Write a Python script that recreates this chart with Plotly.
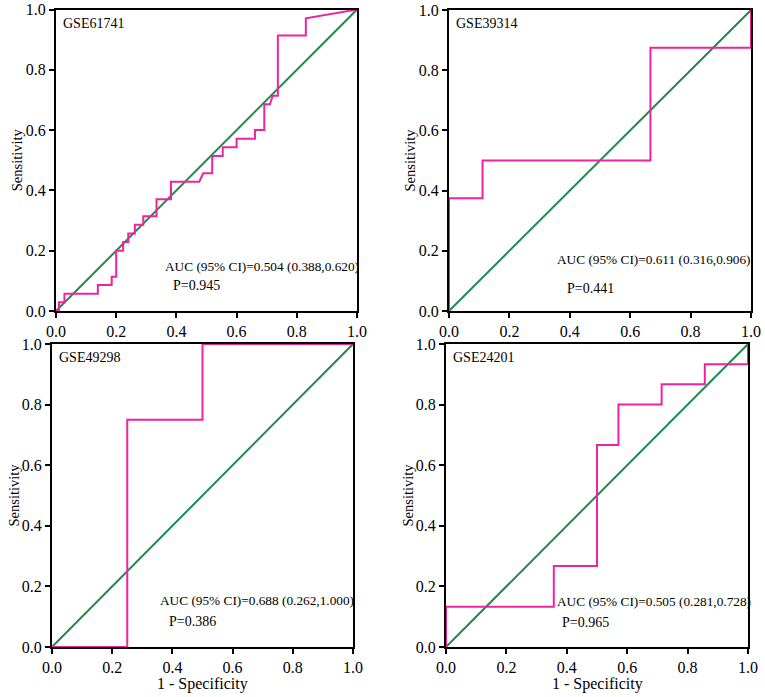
import plotly.graph_objects as go

# ---------------- data ----------------
panel_names = ["GSE61741", "GSE39314", "GSE49298", "GSE24201"]

fpr_61741 = [0, 0.01, 0.01, 0.028, 0.028, 0.139, 0.139, 0.185, 0.185, 0.2, 0.2,
             0.223, 0.223, 0.24, 0.24, 0.262, 0.262, 0.29, 0.29, 0.334, 0.334,
             0.382, 0.382, 0.476, 0.489, 0.519, 0.519, 0.554, 0.554, 0.6, 0.6,
             0.661, 0.661, 0.692, 0.692, 0.711, 0.72, 0.737, 0.737, 0.83, 0.83, 1.0]
tpr_61741 = [0, 0, 0.029, 0.029, 0.057, 0.057, 0.086, 0.086, 0.114, 0.114, 0.2,
             0.2, 0.229, 0.229, 0.257, 0.257, 0.286, 0.286, 0.314, 0.314, 0.371,
             0.371, 0.429, 0.429, 0.457, 0.457, 0.514, 0.514, 0.543, 0.543, 0.571,
             0.571, 0.6, 0.6, 0.686, 0.686, 0.714, 0.714, 0.914, 0.914, 0.971, 1.0]

fpr_39314 = [0, 0, 0.111, 0.111, 0.667, 0.667, 1.0, 1.0]
tpr_39314 = [0, 0.375, 0.375, 0.5, 0.5, 0.875, 0.875, 1.0]

fpr_49298 = [0, 0.25, 0.25, 0.5, 0.5, 1.0]
tpr_49298 = [0, 0, 0.75, 0.75, 1.0, 1.0]

fpr_24201 = [0, 0, 0.357, 0.357, 0.5, 0.5, 0.571, 0.571, 0.714, 0.714, 0.857, 0.857, 1.0, 1.0]
tpr_24201 = [0, 0.133, 0.133, 0.267, 0.267, 0.667, 0.667, 0.8, 0.8, 0.867, 0.867, 0.933, 0.933, 1.0]

auc_texts = ["AUC (95% CI)=0.504 (0.388,0.620)",
             "AUC (95% CI)=0.611 (0.316,0.906)",
             "AUC (95% CI)=0.688 (0.262,1.000)",
             "AUC (95% CI)=0.505 (0.281,0.728)"]
p_texts = ["P=0.945", "P=0.441", "P=0.386", "P=0.965"]

ref_line = [0, 1]
tick_vals = [0, 0.2, 0.4, 0.6, 0.8, 1.0]
tick_text = ["0.0", "0.2", "0.4", "0.6", "0.8", "1.0"]

# ---------------- layout geometry ----------------
W, H = 765, 697


def px(xp):
    return xp / W


def py(yp):
    return 1 - yp / H


# pixel boxes: (left, right, top, bottom)
boxes = [(56, 357, 9.5, 311), (449, 751, 10, 311), (52, 353, 344, 647), (446, 748, 344, 647)]
gse_pos = [(0.015, 0.955), (0.015, 0.956), (0.015, 0.957), (0.015, 0.957)]
auc_pos = [(0.356, 0.149), (0.352, 0.172), (0.353, 0.155), (0.362, 0.150)]
p_pos = [(0.382, 0.086), (0.384, 0.074), (0.381, 0.084), (0.376, 0.082)]
sens_x = [17, 410, 13, 407]

PINK = "#F0239E"
GREEN = "#1E8A4C"
FONT = "Liberation Serif"

curves = [(fpr_61741, tpr_61741), (fpr_39314, tpr_39314),
          (fpr_49298, tpr_49298), (fpr_24201, tpr_24201)]

fig = go.Figure()
annotations = []
for i, (fx, ty) in enumerate(curves):
    n = "" if i == 0 else str(i + 1)
    xa, ya = "x" + n, "y" + n
    fig.add_trace(go.Scatter(x=ref_line, y=ref_line, mode="lines",
                             line=dict(color=GREEN, width=2), xaxis=xa, yaxis=ya,
                             showlegend=False, hoverinfo="skip"))
    fig.add_trace(go.Scatter(x=fx, y=ty, mode="lines",
                             line=dict(color=PINK, width=2), xaxis=xa, yaxis=ya,
                             showlegend=False))
    l, r, t, b = boxes[i]
    axcommon = dict(range=[0, 1], tickvals=tick_vals, ticktext=tick_text,
                    showline=True, linecolor="black", linewidth=2, mirror=True,
                    ticks="outside", ticklen=5, tickwidth=1.5, tickcolor="black",
                    showgrid=False, zeroline=False, automargin=False,
                    tickfont=dict(family=FONT, size=16, color="black"))
    fig.update_layout(**{
        "xaxis" + n: dict(domain=[px(l), px(r)], anchor=ya, **axcommon),
        "yaxis" + n: dict(domain=[py(b), py(t)], anchor=xa, **axcommon),
    })
    tf = dict(family=FONT, size=13.3, color="black")
    annotations.append(dict(x=gse_pos[i][0], y=gse_pos[i][1], xref=xa, yref=ya,
                            text=panel_names[i], showarrow=False, xanchor="left",
                            yanchor="middle", font=dict(family=FONT, size=14, color="black")))
    annotations.append(dict(x=auc_pos[i][0], y=auc_pos[i][1], xref=xa, yref=ya,
                            text=auc_texts[i], showarrow=False, xanchor="left",
                            yanchor="middle", font=tf))
    annotations.append(dict(x=p_pos[i][0], y=p_pos[i][1], xref=xa, yref=ya,
                            text=p_texts[i], showarrow=False, xanchor="left",
                            yanchor="middle", font=dict(family=FONT, size=14, color="black")))
    annotations.append(dict(x=px(sens_x[i]), y=py((t + b) / 2), xref="paper", yref="paper",
                            text="Sensitivity", textangle=-90, showarrow=False,
                            xanchor="center", yanchor="middle",
                            font=dict(family=FONT, size=14.5, color="black")))
    if i >= 2:
        annotations.append(dict(x=px((l + r) / 2), y=py(684), xref="paper", yref="paper",
                                text="1 - Specificity", showarrow=False,
                                xanchor="center", yanchor="middle",
                                font=dict(family=FONT, size=16, color="black")))

fig.update_layout(width=W, height=H, margin=dict(l=0, r=0, t=0, b=0),
                  paper_bgcolor="white", plot_bgcolor="white",
                  annotations=annotations, showlegend=False)

fig.write_html("out.html", config={"displayModeBar": False},
               post_script="document.body.style.margin='0';"
                           "document.body.style.overflow='hidden';")
